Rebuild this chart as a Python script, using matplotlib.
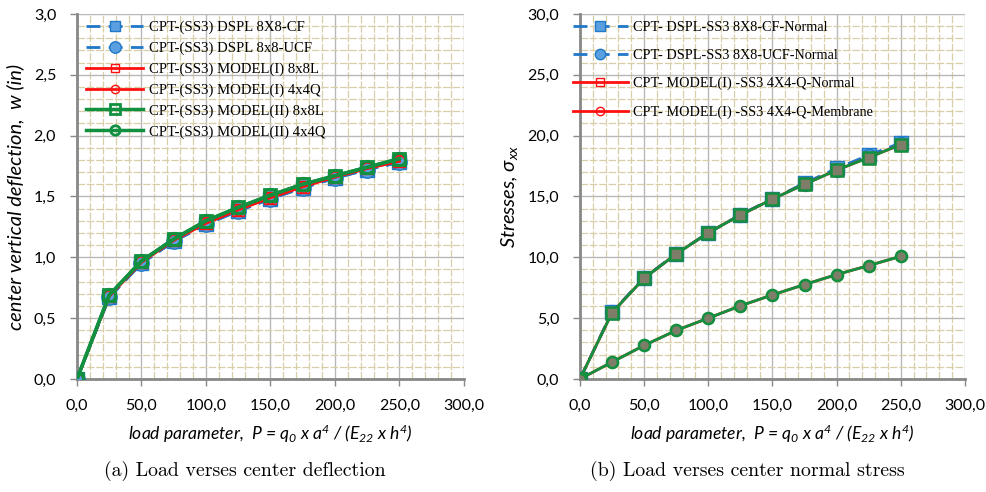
import matplotlib
matplotlib.use('Agg')
import matplotlib.pyplot as plt
from matplotlib.ticker import MultipleLocator, FuncFormatter

plt.rcParams['font.family'] = ['Lato', 'DejaVu Sans']
plt.rcParams['mathtext.fontset'] = 'custom'
plt.rcParams['mathtext.rm'] = 'Lato:italic'
plt.rcParams['mathtext.it'] = 'Lato:italic'
plt.rcParams['mathtext.bf'] = 'Lato:italic'

# load parameter
P = [0, 25, 50, 75, 100, 125, 150, 175, 200, 225, 250]

# (a) center deflection
w_dspl_cf = [0, 0.67, 0.95, 1.13, 1.27, 1.38, 1.48, 1.57, 1.65, 1.72, 1.78]
w_dspl_ucf = [0, 0.67, 0.95, 1.13, 1.27, 1.38, 1.48, 1.57, 1.65, 1.72, 1.78]
w_m1_8x8 = [0, 0.68, 0.96, 1.14, 1.28, 1.39, 1.49, 1.58, 1.66, 1.73, 1.79]
w_m1_4x4 = [0, 0.68, 0.96, 1.14, 1.28, 1.39, 1.49, 1.58, 1.66, 1.73, 1.79]
w_m2_8x8 = [0, 0.69, 0.97, 1.15, 1.30, 1.41, 1.51, 1.60, 1.67, 1.74, 1.81]
w_m2_4x4 = [0, 0.69, 0.97, 1.15, 1.30, 1.41, 1.51, 1.60, 1.67, 1.74, 1.81]

# (b) center normal stress
s_dspl_cf = [0, 5.5, 8.3, 10.3, 12.0, 13.5, 14.8, 16.1, 17.3, 18.4, 19.4]
s_dspl_ucf = [0, 5.5, 8.3, 10.3, 12.0, 13.5, 14.8, 16.0, 17.2, 18.3, 19.3]
s_m1_normal = [0, 5.45, 8.28, 10.27, 12.02, 13.47, 14.78, 16.01, 17.16, 18.2, 19.26]
s_m1_membrane = [0, 1.39, 2.76, 3.99, 5.0, 6.01, 6.91, 7.76, 8.58, 9.32, 10.08]
s_m2_normal = [0, 5.45, 8.28, 10.27, 12.02, 13.47, 14.78, 16.01, 17.16, 18.2, 19.26]
s_m2_membrane = [0, 1.39, 2.76, 3.99, 5.0, 6.01, 6.91, 7.76, 8.58, 9.32, 10.08]

labels_a = ['CPT-(SS3) DSPL 8X8-CF', 'CPT-(SS3) DSPL 8x8-UCF', 'CPT-(SS3) MODEL(I) 8x8L',
            'CPT-(SS3) MODEL(I) 4x4Q', 'CPT-(SS3) MODEL(II) 8x8L', 'CPT-(SS3) MODEL(II) 4x4Q']
labels_b = ['CPT- DSPL-SS3 8X8-CF-Normal', 'CPT- DSPL-SS3 8X8-UCF-Normal',
            'CPT- MODEL(I) -SS3 4X4-Q-Normal', 'CPT- MODEL(I) -SS3 4X4-Q-Membrane']

BLUE = '#1f78c8'
BLUEF = '#5aa0e0'
RED = '#ff1010'
GREEN = '#119040'

xlab = r'load parameter,  P = q$_0$ x a$^4$ / (E$_{22}$ x h$^4$)'
comma = FuncFormatter(lambda v, p: ('%.1f' % v).replace('.', ','))

fig = plt.figure(figsize=(9.87, 4.92), dpi=100)
ax1 = fig.add_axes([0.078, 0.2297, 0.392, 0.742])
ax2 = fig.add_axes([0.5876, 0.2297, 0.390, 0.742])


def style(ax, ymax, ymaj, ymin):
    ax.set_xlim(0, 300)
    ax.set_ylim(0, ymax)
    ax.xaxis.set_major_locator(MultipleLocator(50))
    ax.xaxis.set_minor_locator(MultipleLocator(10))
    ax.yaxis.set_major_locator(MultipleLocator(ymaj))
    ax.yaxis.set_minor_locator(MultipleLocator(ymin))
    ax.xaxis.set_major_formatter(comma)
    ax.yaxis.set_major_formatter(comma)
    ax.grid(which='minor', color='#d8cea8', lw=0.9, ls=(0, (6, 1.5)))
    ax.grid(which='major', color='#b8b8b8', lw=1.0)
    ax.set_axisbelow(True)
    for s in ['top', 'right']:
        ax.spines[s].set_visible(False)
    for s in ['left', 'bottom']:
        ax.spines[s].set_color('#888888')
        ax.spines[s].set_linewidth(2)
    ax.tick_params(which='major', length=5, width=1, color='#888888', labelsize=11.5, pad=9)
    ax.tick_params(axis='y', pad=10)
    ax.tick_params(which='minor', length=0)
    ax.set_xlabel(xlab, fontsize=12.6, style='italic', labelpad=7)


style(ax1, 3.0, 0.5, 0.1)
style(ax2, 30.0, 5.0, 1.0)

# (a)
ax1.plot(P, w_dspl_cf, ls=(0, (5, 3)), color=BLUE, lw=2, marker='s', ms=10,
         mfc=BLUEF, mec=BLUE, label=labels_a[0], zorder=3)
ax1.plot(P, w_dspl_ucf, ls=(0, (5, 3)), color=BLUE, lw=2, marker='o', ms=11,
         mfc=BLUEF, mec=BLUE, label=labels_a[1], zorder=3)
ax1.plot(P, w_m1_8x8, color=RED, lw=2, marker='s', ms=8, mfc='none', mec=RED,
         label=labels_a[2], zorder=4)
ax1.plot(P, w_m1_4x4, color=RED, lw=2, marker='o', ms=8, mfc='none', mec=RED,
         label=labels_a[3], zorder=4)
ax1.plot(P, w_m2_8x8, color=GREEN, lw=2.5, marker='s', ms=9, mfc='none', mec=GREEN,
         mew=2, label=labels_a[4], zorder=5)
ax1.plot(P, w_m2_4x4, color=GREEN, lw=2.5, marker='o', ms=9, mfc='none', mec=GREEN,
         mew=2, label=labels_a[5], zorder=5)
ax1.set_ylabel('center vertical deflection,  w (in)', fontsize=14.5, style='italic', labelpad=7)
ax1.legend(loc='upper left', bbox_to_anchor=(0.0, 1.005), frameon=False,
           prop={'family': 'Liberation Serif', 'size': 10.6}, handlelength=3.9,
           labelspacing=0.5, borderaxespad=0.2, handletextpad=0.4, markerscale=0.75)

# (b)
ax2.plot(P, s_dspl_cf, ls=(0, (5, 3)), color=BLUE, lw=2, marker='s', ms=10,
         mfc=BLUEF, mec=BLUE, label=labels_b[0], zorder=3)
ax2.plot(P, s_dspl_ucf, ls=(0, (5, 3)), color=BLUE, lw=2, marker='o', ms=10,
         mfc=BLUEF, mec=BLUE, label=labels_b[1], zorder=3)
ax2.plot(P, s_m1_normal, color=RED, lw=2, marker='s', ms=8, mfc='none', mec=RED,
         label=labels_b[2], zorder=4)
ax2.plot(P, s_m1_membrane, color=RED, lw=2, marker='o', ms=8, mfc='none', mec=RED,
         label=labels_b[3], zorder=4)
ax2.plot(P, s_m2_normal, color=GREEN, lw=2, marker='s', ms=8, mfc='#7d7d68', mec=GREEN,
         mew=1.8, zorder=5)
ax2.plot(P, s_m2_membrane, color=GREEN, lw=2, marker='o', ms=8, mfc='#7d7d68', mec=GREEN,
         mew=1.8, zorder=5)
ax2.set_ylabel(r'Stresses, $\sigma_{xx}$', fontsize=14.5, style='italic', labelpad=5)
ax2.legend(loc='upper left', bbox_to_anchor=(-0.04, 1.005), frameon=False,
           prop={'family': 'Liberation Serif', 'size': 10.3}, handlelength=3.8,
           labelspacing=1.05, borderaxespad=0.2, handletextpad=0.4, markerscale=0.75)

fig.text(0.248, 0.043, '(a) Load verses center deflection', ha='center', va='center',
         family='cmr10', fontsize=14.3)
fig.text(0.757, 0.043, '(b) Load verses center normal stress', ha='center', va='center',
         family='cmr10', fontsize=14.3)

fig.savefig('out.png', dpi=100)
